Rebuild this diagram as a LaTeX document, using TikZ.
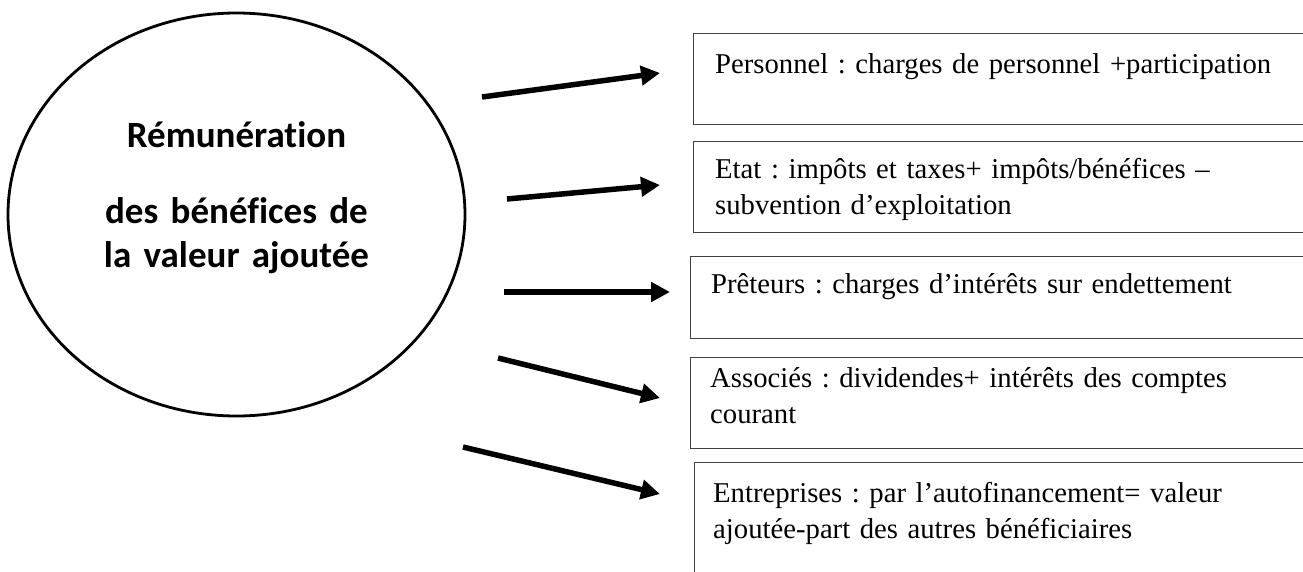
\documentclass[tikz,border=0pt]{standalone}
\usepackage{fontspec}
\setmainfont{Liberation Serif}
\newfontfamily\carlito[Ligatures=NoCommon]{Carlito}
\usetikzlibrary{arrows.meta,shapes.geometric}
\frenchspacing
\begin{document}
\begin{tikzpicture}[x=1pt,y=-1pt,
  boxstyle/.style={draw=black!75, line width=1.2pt, rectangle, anchor=north west, inner sep=0pt, minimum width=640pt},
  boxtext/.style={anchor=base west, inner sep=0pt, text width=600pt, align=left, font=\frenchspacing\fontsize{28.7}{36.7}\selectfont},
  arr/.style={line width=5.5pt, -{Triangle[length=19pt,width=19pt]}}]
\useasboundingbox (0,0) rectangle (1303,571);
\clip (0,0) rectangle (1303,571);
% central ellipse
\node[ellipse, draw, line width=2.8pt, minimum width=457pt, minimum height=403pt, inner sep=0pt] (circ) at (236.5,214.5) {};
\node[anchor=base, inner sep=0pt, align=center, text width=420pt, font=\carlito\bfseries\fontsize{37}{44}\selectfont] (title) at (236.5,147) {Rémunération\\[32pt] des bénéfices de\\ la valeur ajoutée};
% boxes
\node[boxstyle, minimum height=91pt] (b1) at (693,33) {};
\node[boxstyle, minimum height=91pt] (b2) at (693,141) {};
\node[boxstyle, minimum height=82pt] (b3) at (690,256) {};
\node[boxstyle, minimum height=91pt] (b4) at (690,357) {};
\node[boxstyle, minimum height=130pt] (b5) at (694,462) {};
\node[boxtext] (t1) at (715,73) {Personnel : charges de personnel +participation};
\node[boxtext] (t2) at (715,178) {Etat : impôts et taxes+ impôts/bénéfices –\\ subvention d’exploitation};
\node[boxtext] (t3) at (711,293) {Prêteurs : charges d’intérêts sur endettement};
\node[boxtext] (t4) at (710,387) {Associés : dividendes+ intérêts des comptes\\ courant};
\node[boxtext] (t5) at (713,502) {Entreprises : par l’autofinancement= valeur\\ ajoutée-part des autres bénéficiaires};
% arrows
\coordinate (a1s) at (482,97);  \coordinate (a1e) at (660,73);
\coordinate (a2s) at (507,199); \coordinate (a2e) at (660,185);
\coordinate (a3s) at (504,292); \coordinate (a3e) at (670,292);
\coordinate (a4s) at (498,358); \coordinate (a4e) at (660,398);
\coordinate (a5s) at (463,447); \coordinate (a5e) at (660,494);
\draw[arr] (a1s) -- (a1e);
\draw[arr] (a2s) -- (a2e);
\draw[arr] (a3s) -- (a3e);
\draw[arr] (a4s) -- (a4e);
\draw[arr] (a5s) -- (a5e);
\end{tikzpicture}
\end{document}
